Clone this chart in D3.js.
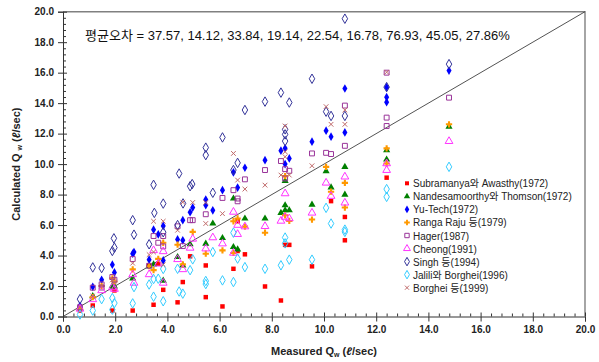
<!DOCTYPE html>
<html><head><meta charset="utf-8">
<script src="https://cdn.jsdelivr.net/npm/d3@7"></script>
<style>
body{margin:0;background:#fff;}
svg{display:block;font-family:"Liberation Sans",Arial,"Noto Sans CJK KR",sans-serif;}
</style></head>
<body><svg id="c" width="599" height="362"></svg>
<script>
// ---------------- data ----------------
const seriesNames = ["Subramanya와 Awasthy(1972)","Nandesamoorthy와  Thomson(1972)","Yu-Tech(1972)","Ranga  Raju 등(1979)","Hager(1987)","Cheong(1991)","Singh 등(1994)","Jalili와 Borghei(1996)","Borghei 등(1999)"];
const xTicks = [0,2,4,6,8,10,12,14,16,18,20];
const yTicks = [0,2,4,6,8,10,12,14,16,18,20];
const errorText = "평균오차 = 37.57, 14.12, 33.84, 19.14, 22.54, 16.78, 76.93, 45.05, 27.86%";

const subramanya = [[0.65,0.39],[1.14,0.72],[1.89,0.39],[1.97,1.71],[2.67,0.39],[3.30,3.35],[3.47,0.77],[3.65,3.46],[3.84,1.75],[4.39,0.93],[4.59,2.26],[4.87,3.95],[5.47,3.35],[5.47,1.27],[6.11,0.66],[6.53,3.13],[6.69,6.25],[6.69,4.3],[6.97,4.08],[7.74,1.97],[8.35,1.05],[8.51,4.7],[8.67,4.7],[9.54,3.29],[10.27,7.57],[10.80,6.53],[10.80,5.0],[12.40,9.11]];
const nandesamoorthy = [[0.65,0.55],[1.14,1.34],[1.89,2.0],[1.97,1.97],[2.67,2.5],[3.30,3.3],[3.47,3.42],[3.84,2.35],[4.39,3.9],[4.59,3.35],[4.87,4.74],[5.47,4.78],[5.74,6.1],[6.11,5.15],[6.53,4.56],[6.53,7.74],[6.69,4.4],[6.97,6.43],[7.74,6.43],[8.35,6.8],[8.51,8.9],[8.51,7.3],[8.51,6.97],[8.67,6.97],[9.54,7.34],[10.08,9.54],[10.27,8.47],[10.80,9.82],[10.80,8.0],[12.40,10.92],[12.40,10.3],[14.79,12.46]];
const yuTech = [[0.65,0.7],[1.14,1.95],[1.48,2.41],[1.89,3.4],[1.97,2.89],[2.67,4.12],[2.72,4.23],[3.30,3.73],[3.47,5.70],[3.65,5.39],[3.84,5.94],[3.84,3.68],[4.39,5.06],[4.59,6.32],[4.59,5.0],[4.87,6.84],[4.97,7.15],[5.47,7.67],[5.47,7.3],[5.74,6.97],[6.11,8.29],[6.53,9.45],[6.69,8.46],[6.97,9.76],[7.74,10.26],[8.35,10.88],[8.51,11.04],[8.51,10.0],[8.67,10.37],[9.54,11.47],[10.08,12.19],[10.27,11.8],[10.80,14.96],[10.80,12.08],[12.40,15.05],[12.40,14.39],[12.40,14.06],[14.79,16.14]];
const rangaRaju = [[0.65,0.5],[1.14,1.27],[1.48,2.0],[1.89,2.5],[1.97,2.3],[2.67,3.09],[3.30,3.3],[3.47,3.04],[3.65,3.78],[3.84,4.84],[4.39,4.71],[4.59,3.42],[4.97,5.55],[5.47,4.12],[6.11,4.34],[6.53,6.25],[6.53,4.17],[6.69,6.43],[6.97,5.9],[7.74,5.5],[8.51,9.21],[8.51,6.64],[8.67,6.27],[9.54,6.36],[10.08,9.82],[10.27,8.19],[10.80,8.77],[10.80,7.15],[12.40,11.03],[12.40,10.04],[14.79,12.61]];
const hager = [[0.65,0.61],[1.14,1.89],[1.48,2.11],[1.48,1.9],[1.89,2.59],[1.97,2.41],[2.67,3.77],[3.30,3.33],[3.47,5.28],[3.65,4.84],[3.84,5.28],[3.84,4.6],[4.39,5.92],[4.59,4.62],[4.87,6.32],[4.97,6.32],[5.47,6.71],[6.11,7.78],[6.53,8.29],[6.69,7.56],[6.69,7.74],[6.97,9.0],[7.74,9.61],[8.35,10.2],[8.51,9.67],[8.51,9.06],[8.67,9.56],[9.54,10.7],[10.08,10.74],[10.27,10.66],[10.80,13.84],[10.80,11.2],[12.40,13.05],[12.40,12.5],[12.40,16.0],[14.79,14.36]];
const cheong = [[0.65,0.5],[1.14,1.12],[1.48,1.71],[1.89,1.9],[1.97,1.8],[2.67,2.76],[2.72,2.2],[3.30,2.76],[3.47,4.34],[3.65,3.46],[3.84,4.27],[3.84,2.2],[4.39,3.75],[4.59,3.09],[4.87,4.5],[4.97,5.09],[5.47,4.45],[5.74,5.18],[6.11,4.78],[6.53,6.86],[6.53,4.17],[6.69,6.0],[6.69,5.4],[6.97,5.9],[7.74,5.92],[8.35,6.27],[8.51,8.07],[8.51,6.53],[8.67,6.43],[9.54,6.8],[10.08,8.77],[10.27,7.9],[10.80,9.17],[10.80,7.46],[12.40,10.04],[12.40,9.6],[14.79,11.5]];
const singh = [[0.65,1.14],[1.14,3.22],[1.48,3.18],[1.89,4.3],[1.97,4.52],[1.95,5.13],[2.67,6.32],[2.72,5.37],[3.30,4.74],[3.47,8.64],[3.5,6.8],[3.84,7.41],[3.84,5.53],[4.39,6.0],[4.45,9.38],[4.6,7.42],[4.87,8.55],[4.95,8.69],[5.47,10.59],[5.47,11.08],[5.74,8.12],[6.11,11.75],[6.53,9.61],[6.69,10.08],[6.97,13.55],[7.74,14.1],[8.35,14.69],[8.51,12.28],[8.51,11.95],[8.51,11.51],[8.67,14.04],[9.54,15.6],[10.08,13.44],[10.27,13.16],[10.80,19.54],[10.80,13.16],[12.40,15.05],[14.79,16.56]];
const jalili = [[0.65,0.13],[1.14,0.39],[1.48,1.14],[1.89,0.45],[1.89,1.21],[1.97,0.88],[2.67,0.86],[2.72,1.93],[3.30,2.1],[3.47,1.30],[3.47,2.46],[3.65,2.48],[3.84,3.12],[3.84,1.0],[4.39,3.13],[4.45,1.64],[4.59,1.5],[4.87,3.04],[4.97,3.75],[5.47,2.33],[5.47,2.13],[5.74,4.23],[6.11,2.37],[6.53,5.5],[6.53,2.26],[6.69,3.8],[6.97,3.24],[7.74,3.13],[8.35,3.36],[8.51,5.18],[8.51,4.8],[8.67,3.73],[9.54,3.73],[10.08,7.13],[10.27,6.1],[10.80,5.7],[10.80,5.55],[12.40,8.36],[12.40,7.85],[14.79,9.82]];
const borghei = [[0.65,0.6],[1.14,1.34],[1.48,2.0],[1.89,2.4],[1.97,2.26],[2.67,3.5],[3.30,4.06],[3.47,4.23],[3.47,6.25],[3.84,6.25],[3.84,3.40],[4.39,5.66],[4.59,7.5],[4.97,7.48],[5.47,6.1],[5.47,7.48],[6.11,6.75],[6.53,10.7],[6.69,8.95],[6.97,8.36],[7.74,8.62],[8.35,9.28],[8.51,12.5],[8.51,10.81],[8.51,10.48],[8.67,9.28],[9.54,9.89],[10.08,13.77],[10.27,12.61],[10.80,13.55],[10.80,12.61],[12.40,16.03]];

const seriesData = [subramanya,nandesamoorthy,yuTech,rangaRaju,hager,cheong,singh,jalili,borghei];
const styles = [
  {sym:d3.symbolSquare,  size:20, fill:"#ff0000", stroke:"none"},
  {sym:d3.symbolTriangle,size:22, fill:"#008000", stroke:"none"},
  {sym:d3.symbolDiamond, size:22, fill:"#0000ff", stroke:"none"},
  {sym:d3.symbolCross,   size:22, fill:"#ff9900", stroke:"none"},
  {sym:d3.symbolSquare,  size:24, fill:"none", stroke:"#993399"},
  {sym:d3.symbolTriangle,size:26, fill:"none", stroke:"#ff33ff"},
  {sym:d3.symbolDiamond, size:26, fill:"none", stroke:"#333399"},
  {sym:d3.symbolDiamond, size:26, fill:"none", stroke:"#33ccff"},
  {sym:d3.symbolX,       size:16, fill:"none", stroke:"#c06a6a"}
];

// ---------------- layout ----------------
const svg = d3.select("#c");
const x = d3.scaleLinear().domain([0,20]).range([63,585]);
const y = d3.scaleLinear().domain([0,20]).range([316.5,11.7]);
const minor = d3.range(0,20.001,0.4).filter(v=>Math.abs(v/2-Math.round(v/2))>1e-6);

// border (top/right)
svg.append("path").attr("d",`M${x(0)},${y(20)}H${x(20)}V${y(0)}`)
  .attr("fill","none").attr("stroke","#808080").attr("stroke-width",1.4);

// diagonal
svg.append("line").attr("x1",x(0)).attr("y1",y(0)).attr("x2",x(20)).attr("y2",y(20))
  .attr("stroke","#404040").attr("stroke-width",0.9);

function styleAxis(g){g.select(".domain").attr("stroke","#333");g.selectAll(".tick line").attr("stroke","#333");}
// x axis
const gx = svg.append("g").attr("transform",`translate(0,${y(0)})`);
gx.call(d3.axisBottom(x).tickValues(xTicks).tickSize(5).tickPadding(4).tickFormat(d3.format(".1f")));
gx.call(styleAxis);
gx.selectAll("text").attr("font-size",10).attr("font-weight","bold").attr("fill","#222");
svg.append("g").attr("transform",`translate(0,${y(0)})`).call(d3.axisBottom(x).tickValues(xTicks).tickSize(-4).tickFormat(""))
  .call(g=>{g.select(".domain").remove();g.selectAll("line").attr("stroke","#333");});
svg.append("g").attr("transform",`translate(0,${y(0)})`).call(d3.axisBottom(x).tickValues(minor).tickSize(-3).tickFormat(""))
  .call(g=>{g.select(".domain").remove();g.selectAll("line").attr("stroke","#333");});
// y axis
const gy = svg.append("g").attr("transform",`translate(${x(0)},0)`);
gy.call(d3.axisLeft(y).tickValues(yTicks).tickSize(5).tickPadding(4).tickFormat(d3.format(".1f")));
gy.call(styleAxis);
gy.selectAll("text").attr("font-size",10).attr("font-weight","bold").attr("fill","#222");
svg.append("g").attr("transform",`translate(${x(0)},0)`).call(d3.axisLeft(y).tickValues(yTicks).tickSize(-4).tickFormat(""))
  .call(g=>{g.select(".domain").remove();g.selectAll("line").attr("stroke","#333");});
svg.append("g").attr("transform",`translate(${x(0)},0)`).call(d3.axisLeft(y).tickValues(minor).tickSize(-3).tickFormat(""))
  .call(g=>{g.select(".domain").remove();g.selectAll("line").attr("stroke","#333");});

// axis titles
const xt = svg.append("text").attr("x",(x(0)+x(20))/2).attr("y",355).attr("text-anchor","middle")
  .attr("font-size",11).attr("font-weight","bold").attr("fill","#222");
xt.append("tspan").text("Measured Q");
xt.append("tspan").attr("font-size",7).attr("dy",2).text("w");
xt.append("tspan").attr("dy",-2).text(" (");
xt.append("tspan").attr("font-style","italic").text("ℓ");
xt.append("tspan").text("/sec)");

const yt = svg.append("text").attr("transform",`translate(20,${(y(0)+y(20))/2}) rotate(-90)`).attr("text-anchor","middle")
  .attr("font-size",11).attr("font-weight","bold").attr("fill","#222");
yt.append("tspan").text("Calculated Q ");
yt.append("tspan").attr("font-size",7).attr("dy",2).text(" w");
yt.append("tspan").attr("dy",-2).text(" (");
yt.append("tspan").attr("font-style","italic").text("ℓ");
yt.append("tspan").text("/sec)");

// points
seriesData.forEach((data,i)=>{
  const st = styles[i];
  const sym = d3.symbol().type(st.sym).size(st.size);
  svg.append("g").selectAll("path").data(data).join("path")
    .attr("transform",d=>`translate(${x(d[0])},${y(d[1])})`)
    .attr("d",sym).attr("fill",st.fill).attr("stroke",st.stroke).attr("stroke-width",1);
});

// annotation
svg.append("text").attr("x",85).attr("y",40).attr("font-size",13).attr("fill","#111").text(errorText);

// legend
const lg = svg.append("g");
seriesNames.forEach((n,i)=>{
  const st = styles[i];
  const yy = 183.3 + i*13.05;
  lg.append("path").attr("transform",`translate(407,${yy})`)
    .attr("d",d3.symbol().type(st.sym).size(st.size*0.8)).attr("fill",st.fill).attr("stroke",st.stroke).attr("stroke-width",1);
  lg.append("text").attr("x",413).attr("y",yy+4).attr("font-size",10).attr("fill","#222").text(n);
});
</script></body></html>
